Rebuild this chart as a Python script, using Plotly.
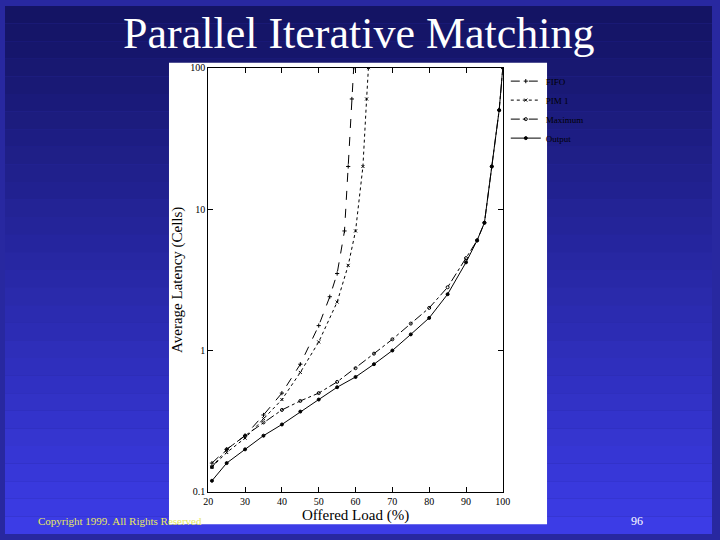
import plotly.graph_objects as go

# data
fifo_x = [21, 25, 30, 35, 40, 45, 50, 53, 55, 57, 58, 59, 59.5]
fifo_y = [0.16, 0.2, 0.25, 0.35, 0.5, 0.8, 1.5, 2.4, 3.5, 7, 20, 60, 100]
pim_x = [21, 25, 30, 35, 40, 45, 50, 55, 58, 60, 62, 63, 63.5]
pim_y = [0.15, 0.19, 0.24, 0.33, 0.45, 0.7, 1.15, 2.2, 4, 7, 20, 60, 100]
max_x = [21, 25, 30, 35, 40, 45, 50, 55, 60, 65, 70, 75, 80, 85, 90, 93, 95, 97, 99, 100]
max_y = [0.15, 0.2, 0.25, 0.31, 0.38, 0.44, 0.5, 0.6, 0.75, 0.95, 1.2, 1.55, 2.0, 2.8, 4.5, 6, 8, 20, 50, 100]
out_x = [21, 25, 30, 35, 40, 45, 50, 55, 60, 65, 70, 75, 80, 85, 90, 93, 95, 97, 99, 100]
out_y = [0.12, 0.16, 0.2, 0.25, 0.3, 0.37, 0.45, 0.55, 0.65, 0.8, 1.0, 1.3, 1.7, 2.5, 4.2, 6, 8, 20, 50, 100]

fig = go.Figure()
series = [
    ("FIFO", fifo_x, fifo_y, "dash", "cross-thin-open"),
    ("PIM 1", pim_x, pim_y, "dot", "x-thin-open"),
    ("Maximum", max_x, max_y, "dashdot", "circle-open"),
    ("Output", out_x, out_y, "solid", "circle"),
]
for name, xs, ys, dash, sym in series:
    fig.add_trace(go.Scatter(x=xs, y=ys, name=name, mode="lines+markers",
                             line=dict(color="black", width=1, dash=dash),
                             marker=dict(symbol=sym, size=3, color="black",
                                         line=dict(color="black", width=1))))

# slide background: stepped blue gradient
shapes = []
n = 30
for i in range(n):
    t = i / (n - 1)
    r = int(20 + t * 40)
    g = int(20 + t * 40)
    b = int(100 + t * 130)
    shapes.append(dict(type="rect", xref="paper", yref="paper",
                       x0=0, x1=1, y0=1 - (i + 1) / n, y1=1 - i / n,
                       fillcolor=f"rgb({r},{g},{b})", line_width=0, layer="below"))
shapes.append(dict(type="rect", xref="paper", yref="paper",
                   x0=167 / 720, x1=552 / 720, y0=1 - 530 / 540, y1=1 - 58 / 540,
                   fillcolor="white", line_width=0, layer="below"))
axis_font = dict(family="Times New Roman, Liberation Serif, serif", size=10, color="black")

fig.update_layout(
    width=720, height=540,
    margin=dict(l=0, r=0, t=0, b=0),
    paper_bgcolor="rgb(40,40,160)",
    plot_bgcolor="white",
    shapes=shapes,
    showlegend=True,
    legend=dict(x=510 / 720, y=1 - 62 / 540, xanchor="left", yanchor="top",
                bgcolor="rgba(0,0,0,0)", font=dict(family="Liberation Serif", size=9, color="black"),
                itemwidth=30, tracegroupgap=2),
    xaxis=dict(domain=[207 / 720, 507 / 720], range=[20, 100], dtick=10,
               showgrid=False, zeroline=False, showline=True, linecolor="black",
               mirror="ticks", ticks="inside", ticklen=5, tickcolor="black",
               tickfont=axis_font,
               title=dict(text="Offered Load (%)", standoff=0,
                          font=dict(family="Liberation Serif", size=15, color="black"))),
    yaxis=dict(domain=[1 - 497 / 540, 1 - 63 / 540], type="log", range=[-1, 2],
               tickvals=[0.1, 1, 10, 100], ticktext=["0.1", "1", "10", "100"],
               showgrid=False, zeroline=False, showline=True, linecolor="black",
               mirror="ticks", ticks="inside", ticklen=5, tickcolor="black",
               tickfont=axis_font,
               title=dict(text="Average Latency (Cells)", standoff=4,
                          font=dict(family="Liberation Serif", size=15, color="black"))),
    annotations=[
        dict(text="Parallel Iterative Matching", xref="paper", yref="paper",
             x=0.5, y=1 - 28 / 540, showarrow=False, yanchor="middle",
             font=dict(family="Liberation Serif", size=44, color="white")),
        dict(text="Copyright 1999. All Rights Reserved", xref="paper", yref="paper",
             x=32 / 720, y=1 - 527 / 540, xanchor="left", yanchor="middle", showarrow=False,
             font=dict(family="Liberation Serif", size=11, color="#e8e860")),
        dict(text="96", xref="paper", yref="paper", x=652 / 720, y=1 - 527 / 540,
             yanchor="middle", showarrow=False,
             font=dict(family="Liberation Serif", size=12, color="white")),
    ],
)

fig.write_html("out.html", config={"displayModeBar": False},
               post_script="document.body.style.margin='0';document.body.style.overflow='hidden';")
